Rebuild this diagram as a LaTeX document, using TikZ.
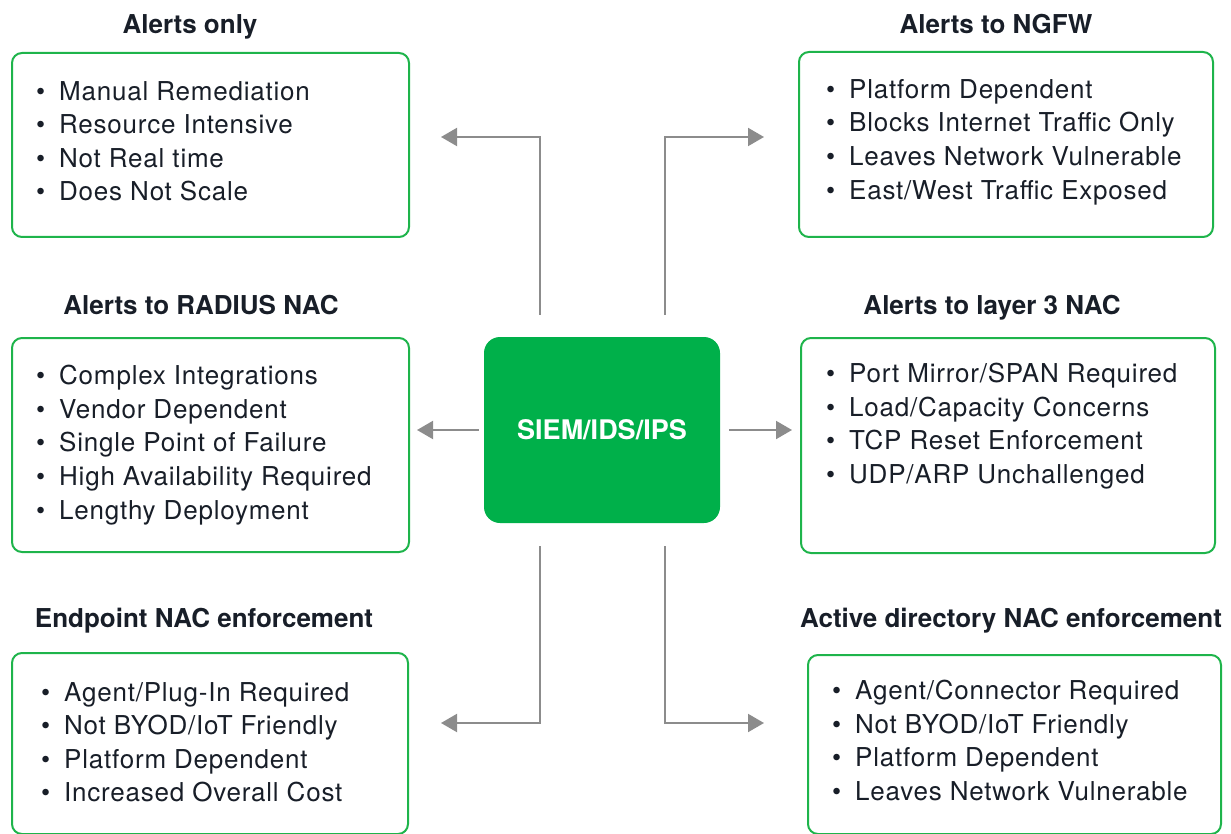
\documentclass[tikz,border=0pt]{standalone}
\usepackage{fontspec}
\setmainfont{TeX Gyre Heros}
\usetikzlibrary{arrows.meta}

\definecolor{boxgreen}{RGB}{30,180,75}
\definecolor{siemgreen}{RGB}{0,176,74}
\definecolor{inkdark}{RGB}{24,30,40}
\definecolor{arrowgray}{RGB}{140,140,140}

\newcommand{\itm}{\makebox[23pt][l]{\textbullet}}

\tikzset{
  panel/.style={draw=boxgreen, line width=2pt, rounded corners=10pt, inner sep=0pt, anchor=north west},
  heading/.style={font=\fontsize{26}{30}\selectfont\bfseries, text=inkdark, inner sep=0pt, anchor=base},
  items/.style={font=\fontsize{26}{33.6}\selectfont\addfontfeature{LetterSpace=3}, text=inkdark, anchor=north west, align=left, inner sep=0pt},
  flow/.style={draw=arrowgray, line width=2pt, -{Triangle[length=16pt,width=18pt]}}
}

\begin{document}
\begin{tikzpicture}[x=1pt,y=-1pt]
  \useasboundingbox (0,0) rectangle (1231,834);

  % centre box
  \node [fill=siemgreen, rounded corners=16pt, minimum width=236, minimum height=186, inner sep=0pt,
         font=\fontsize{27}{30}\selectfont\bfseries, text=white] (siem) at (602,430) {SIEM/IDS/IPS};

  % panels
  \node [panel, minimum width=397, minimum height=184] (alonly) at (11,52) {};
  \node [panel, minimum width=414, minimum height=185] (ngfw) at (798,51) {};
  \node [panel, minimum width=397, minimum height=214] (radius) at (11,337) {};
  \node [panel, minimum width=414, minimum height=215] (lthree) at (800,337) {};
  \node [panel, minimum width=396, minimum height=181] (endpt) at (11,652) {};
  \node [panel, minimum width=413, minimum height=179] (addir) at (807,654) {};

  % headings
  \node [heading] (talonly) at (190,34) {Alerts only};
  \node [heading] (tngfw) at (996,34) {Alerts to NGFW};
  \node [heading] (tradius) at (201,314) {Alerts to RADIUS NAC};
  \node [heading] (tlthree) at (992,314) {Alerts to layer 3 NAC};
  \node [heading] (tendpt) at (204,627) {Endpoint NAC enforcement};
  \node [heading] (taddir) at (1011,627) {Active directory NAC enforcement};

  % lists
  \node [items] (lalonly) at (36,81) {\itm Manual Remediation\\ \itm Resource Intensive\\ \itm Not Real time\\ \itm Does Not Scale};
  \node [items] (lngfw) at (826,79) {\itm Platform Dependent\\ \itm Blocks Internet Traffic Only\\ \itm Leaves Network Vulnerable\\ \itm East/West Traffic Exposed};
  \node [items] (lradius) at (36,365) {\itm Complex Integrations\\ \itm Vendor Dependent\\ \itm Single Point of Failure\\ \itm High Availability Required\\ \itm Lengthy Deployment};
  \node [items] (llthree) at (826,363) {\itm Port Mirror/SPAN Required\\ \itm Load/Capacity Concerns\\ \itm TCP Reset Enforcement\\ \itm UDP/ARP Unchallenged};
  \node [items] (lendpt) at (41,682) {\itm Agent/Plug-In Required\\ \itm Not BYOD/IoT Friendly\\ \itm Platform Dependent\\ \itm Increased Overall Cost};
  \node [items] (laddir) at (832,680) {\itm Agent/Connector Required\\ \itm Not BYOD/IoT Friendly\\ \itm Platform Dependent\\ \itm Leaves Network Vulnerable};

  % connectors
  \coordinate (tlk) at (540,137);
  \coordinate (trk) at (665,137);
  \coordinate (blk) at (540,723);
  \coordinate (brk) at (665,723);
  \coordinate (tlend) at (441,137);
  \coordinate (trend) at (764,137);
  \coordinate (blend) at (441,723);
  \coordinate (brend) at (764,723);

  \draw [flow, shorten <=22pt] (siem.north -| tlk) -- (tlk) -- (tlend);
  \draw [flow, shorten <=22pt] (siem.north -| trk) -- (trk) -- (trend);
  \draw [flow, shorten <=23pt] (siem.south -| blk) -- (blk) -- (blend);
  \draw [flow, shorten <=23pt] (siem.south -| brk) -- (brk) -- (brend);
  \draw [flow, shorten <=5pt, shorten >=7pt] (siem.west) -- (radius.east |- siem.west);
  \draw [flow, shorten <=9pt, shorten >=8pt] (siem.east) -- (lthree.west |- siem.east);
\end{tikzpicture}
\end{document}
